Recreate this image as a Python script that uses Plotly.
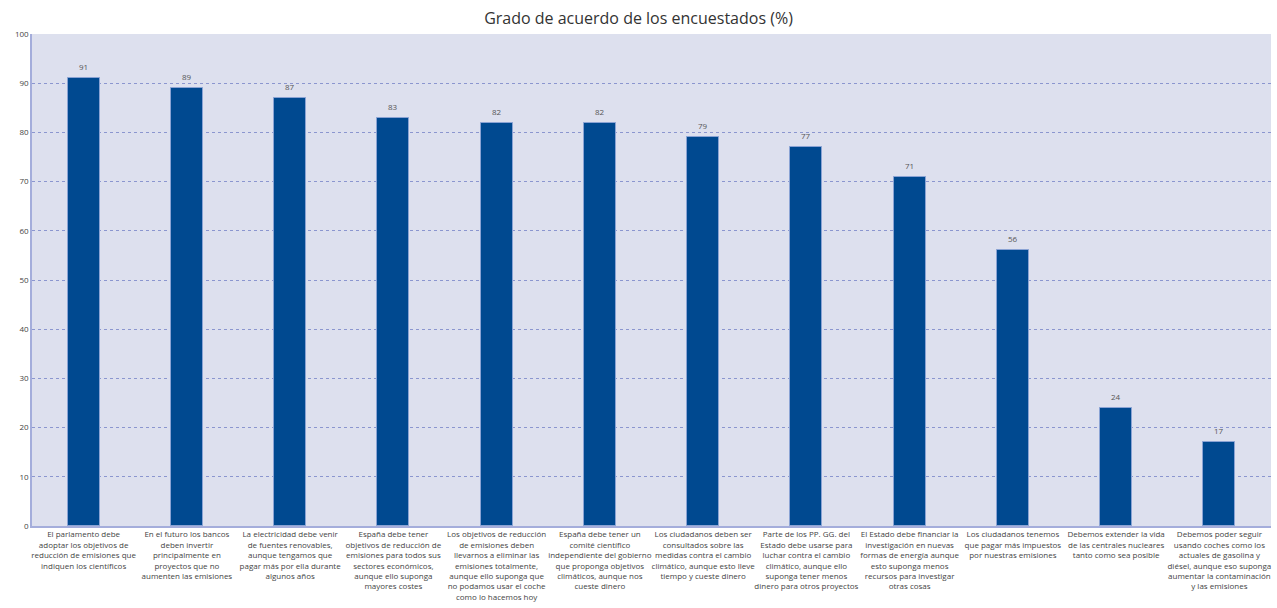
import plotly.graph_objects as go

categories = [
    "El parlamento debe<br>adoptar los objetivos de<br>reducción de emisiones que<br>indiquen los científicos",
    "En el futuro los bancos<br>deben invertir<br>principalmente en<br>proyectos que no<br>aumenten las emisiones",
    "La electricidad debe venir<br>de fuentes renovables,<br>aunque tengamos que<br>pagar más por ella durante<br>algunos años",
    "España debe tener<br>objetivos de reducción de<br>emisiones para todos sus<br>sectores económicos,<br>aunque ello suponga<br>mayores costes",
    "Los objetivos de reducción<br>de emisiones deben<br>llevarnos a eliminar las<br>emisiones totalmente,<br>aunque ello suponga que<br>no podamos usar el coche<br>como lo hacemos hoy",
    "España debe tener un<br>comité científico<br>independiente del gobierno<br>que proponga objetivos<br>climáticos, aunque nos<br>cueste dinero",
    "Los ciudadanos deben ser<br>consultados sobre las<br>medidas contra el cambio<br>climático, aunque esto lleve<br>tiempo y cueste dinero",
    "Parte de los PP. GG. del<br>Estado debe usarse para<br>luchar contra el cambio<br>climático, aunque ello<br>suponga tener menos<br>dinero para otros proyectos",
    "El Estado debe financiar la<br>investigación en nuevas<br>formas de energía aunque<br>esto suponga menos<br>recursos para investigar<br>otras cosas",
    "Los ciudadanos tenemos<br>que pagar más impuestos<br>por nuestras emisiones",
    "Debemos extender la vida<br>de las centrales nucleares<br>tanto como sea posible",
    "Debemos poder seguir<br>usando coches como los<br>actuales de gasolina y<br>diésel, aunque eso suponga<br>aumentar la contaminación<br>y las emisiones",
]
values = [91, 89, 87, 83, 82, 82, 79, 77, 71, 56, 24, 17]
y_ticks = [0, 10, 20, 30, 40, 50, 60, 70, 80, 90, 100]

x_idx = list(range(len(categories)))

fig = go.Figure(go.Bar(
    x=x_idx,
    y=values,
    width=0.31,
    marker=dict(color="#004990", line=dict(color="#8aa3d4", width=1)),
))

for xi, v in zip(x_idx, values):
    fig.add_annotation(
        x=xi, y=v, text=str(v), showarrow=False,
        yanchor="bottom", yshift=4,
        font=dict(size=8, color="#555555", family="Open Sans, sans-serif"),
    )

fig.update_layout(
    width=1277, height=608,
    margin=dict(l=32, r=6, t=34, b=82),
    paper_bgcolor="white",
    plot_bgcolor="#dde0ee",
    title=dict(text="Grado de acuerdo de los encuestados (%)", x=0.5, xanchor="center",
               y=0.97, yanchor="middle",
               font=dict(size=16, color="#333333", family="Open Sans, sans-serif")),
    font=dict(family="Open Sans, sans-serif", size=8, color="#444444"),
    showlegend=False,
    bargap=0,
)
fig.update_xaxes(
    tickmode="array", tickvals=x_idx, ticktext=categories,
    range=[-0.5, len(categories) - 0.5],
    showgrid=False, showline=True, linecolor="#a4addb", linewidth=1.5,
    tickangle=0, ticks="", tickfont=dict(size=8, color="#444444"),
)
fig.update_yaxes(
    range=[0, 100], tickvals=y_ticks, ticks="",
    showgrid=True, gridcolor="#8b96cf", griddash="dot", gridwidth=1,
    showline=True, linecolor="#a4addb", linewidth=1.5,
    zeroline=False, tickfont=dict(size=8, color="#444444"),
)

fig.write_html("out.html")
